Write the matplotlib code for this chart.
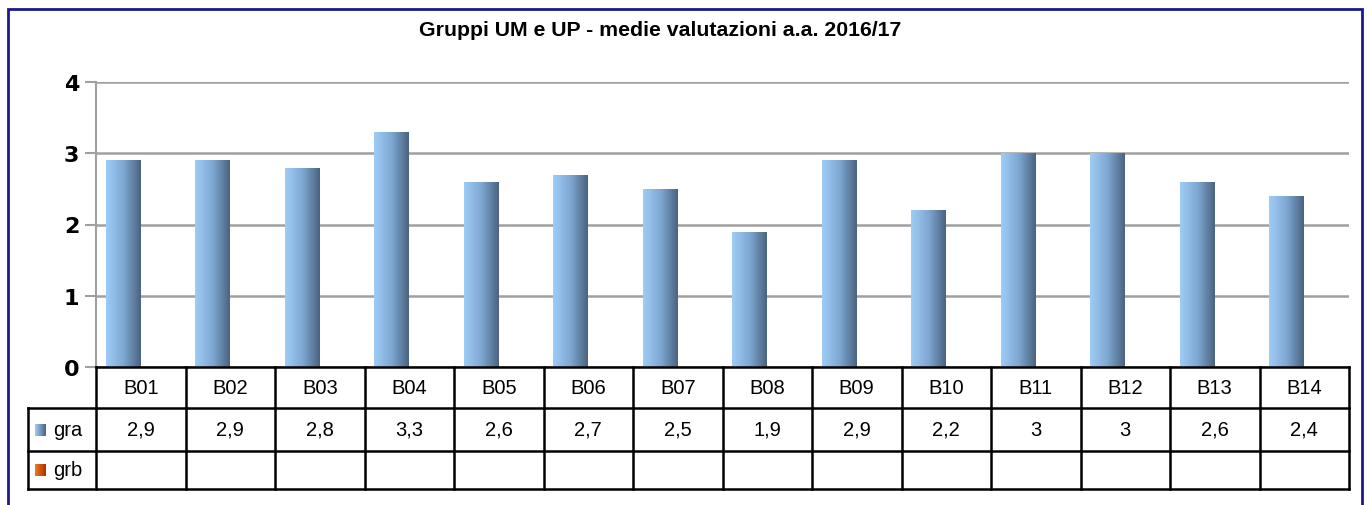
import numpy as np
import matplotlib
matplotlib.use("Agg")
import matplotlib.pyplot as plt
from matplotlib.patches import Rectangle
from matplotlib.colors import LinearSegmentedColormap
from matplotlib.transforms import blended_transform_factory

# dati
categorie = ["B01", "B02", "B03", "B04", "B05", "B06", "B07",
             "B08", "B09", "B10", "B11", "B12", "B13", "B14"]
gra = [2.9, 2.9, 2.8, 3.3, 2.6, 2.7, 2.5, 1.9, 2.9, 2.2, 3.0, 3.0, 2.6, 2.4]
grb = [None] * len(categorie)  # serie vuota
serie_nomi = ["gra", "grb"]
titolo = "Gruppi UM e UP - medie valutazioni a.a. 2016/17"
y_ticks = [0, 1, 2, 3, 4]

W, H = 1367, 506
fig = plt.figure(figsize=(W / 100, H / 100), dpi=100)
fig.patch.set_facecolor("white")

def fx(px):
    return px / W

def fy(py):
    return 1 - py / H

# cornice blu
fig.add_artist(Rectangle((fx(8), fy(540)), fx(1362 - 8), fy(10) - fy(540),
                         transform=fig.transFigure, fill=False,
                         edgecolor="#1a1a8c", linewidth=2, clip_on=False))

left, right, top, bottom = 96, 1349, 83, 368
ax = fig.add_axes([fx(left), fy(bottom), fx(right - left), fy(top) - fy(bottom)])

x = np.arange(len(categorie))
bw = 0.38

cmap = LinearSegmentedColormap.from_list("blu", ["#9fcdf8", "#7fa8d2", "#4a6380"])
grad = np.linspace(0, 1, 256).reshape(1, -1)

# la serie gra occupa la meta sinistra (grb e vuota)
bars = ax.bar(x - bw / 2 - 0.01, gra, width=bw, color="none", zorder=3)
for b in bars:
    x0, w, h = b.get_x(), b.get_width(), b.get_height()
    im = ax.imshow(grad, cmap=cmap, aspect="auto", extent=[x0, x0 + w, 0, h],
                   zorder=3, interpolation="bilinear")
    im.set_clip_path(b)
ax.set_xlim(-0.5, len(categorie) - 0.5)
ax.set_ylim(0, 4)

ax.set_yticks(y_ticks)
ax.set_yticklabels([str(v) for v in y_ticks], fontsize=16, fontweight="bold",
                   family="DejaVu Sans")
ax.tick_params(axis="y", length=8, color="#a0a0a0", width=1.5, pad=4)
ax.set_xticks([])
ax.grid(axis="y", color="#a0a0a0", linewidth=1.8, zorder=0)
ax.set_axisbelow(True)
for s in ["top", "right", "bottom"]:
    ax.spines[s].set_visible(False)
ax.spines["left"].set_color("#a0a0a0")
ax.spines["left"].set_linewidth(1.5)

fig.text(fx(660), fy(31), titolo, ha="center", va="center", fontsize=15.3,
         fontweight="bold", family="Liberation Sans")

# tabella dati sotto il grafico
tr = blended_transform_factory(ax.transData, fig.transFigure)
righe = [368, 409, 452, 490]
lw = 1.8
col = "black"
n = len(categorie)
fs = 14.5
fig.add_artist(plt.Line2D([-0.5, n - 0.5], [fy(righe[0])] * 2, transform=tr, color=col, lw=lw))
for r in righe[1:]:
    fig.add_artist(plt.Line2D([fx(28), fx(right)], [fy(r)] * 2,
                              transform=fig.transFigure, color=col, lw=lw))
for i in range(n + 1):
    fig.add_artist(plt.Line2D([i - 0.5, i - 0.5], [fy(righe[0]), fy(righe[-1])],
                              transform=tr, color=col, lw=lw))
fig.add_artist(plt.Line2D([fx(28), fx(28)], [fy(righe[1]), fy(righe[-1])],
                          transform=fig.transFigure, color=col, lw=lw))

ymid = [(righe[i] + righe[i + 1]) / 2 for i in range(3)]
for i, c in enumerate(categorie):
    fig.text(i, fy(ymid[0]), c, transform=tr, ha="center", va="center",
             fontsize=fs, family="Liberation Sans")
    s = ("%g" % gra[i]).replace(".", ",")
    fig.text(i, fy(ymid[1]), s, transform=tr, ha="center", va="center",
             fontsize=fs, family="Liberation Sans")

# legenda nella tabella
swatch = [("#9fcdf8", "#4a6380"), ("#f07a20", "#b03000")]
for k, nome in enumerate(serie_nomi):
    yc = ymid[k + 1]
    sw = fig.add_axes([fx(35), fy(yc + 6), fx(11), fy(yc - 6) - fy(yc + 6)])
    sw.imshow(grad, cmap=LinearSegmentedColormap.from_list("s", swatch[k]),
              aspect="auto")
    sw.axis("off")
    fig.text(fx(53), fy(yc), nome, ha="left", va="center", fontsize=fs,
             family="Liberation Sans")

fig.savefig("out.png", dpi=100)
